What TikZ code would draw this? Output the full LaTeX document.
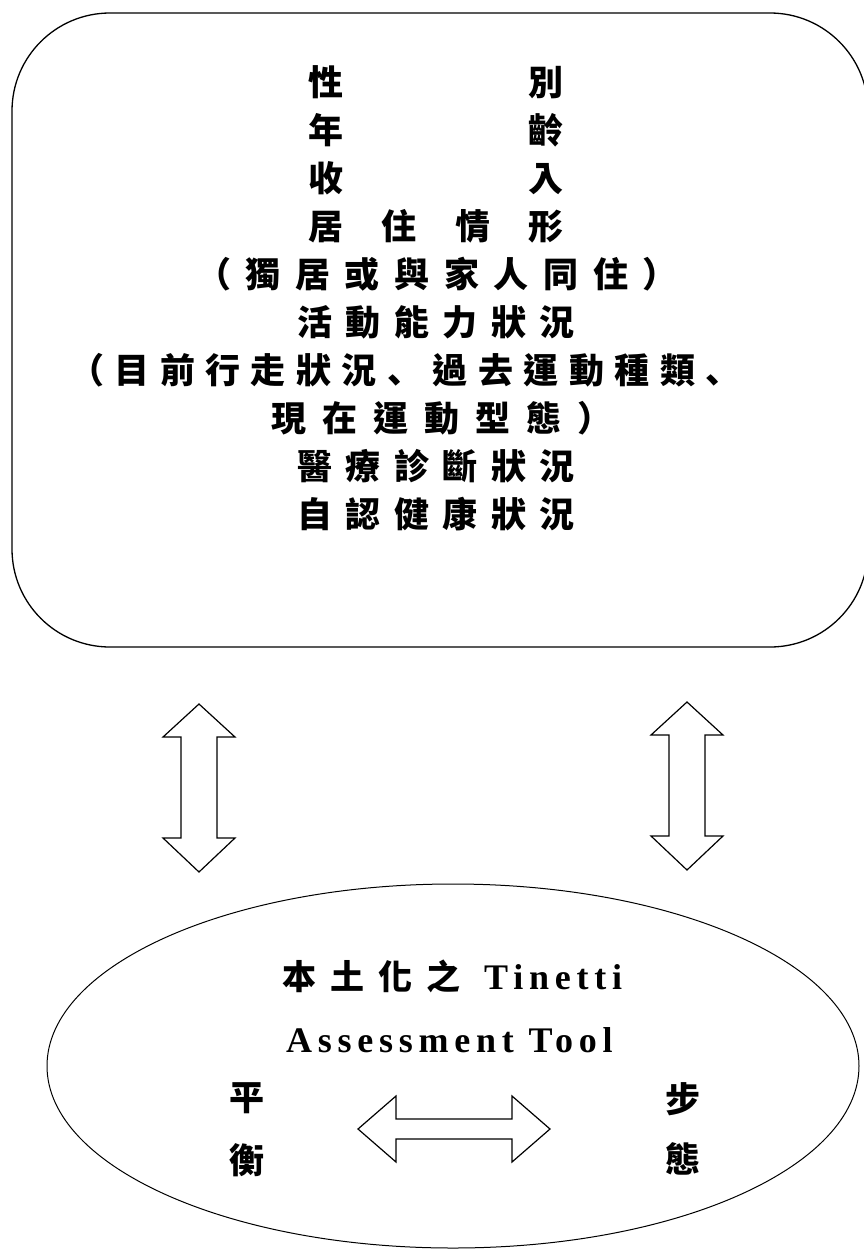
\documentclass[tikz,border=0pt]{standalone}
\usepackage{fontspec}
\usetikzlibrary{shapes.geometric}
\newfontfamily\cjk{Noto Sans CJK TC}
\newfontfamily\cjkjp{Noto Sans CJK JP}
\newfontfamily\latsp[LetterSpace=16]{Liberation Serif}
\newcommand\distline[2]{\makebox[#1pt][s]{#2}}
\tikzset{
  boxline/.style={draw=black, line width=1.3pt},
  ellline/.style={draw=black, line width=1pt},
  bigarrow/.style={draw=black, line width=1.2pt, line join=miter, fill=white},
  toptext/.style={inner sep=0pt, anchor=center, font=\cjk\bfseries\fontsize{35}{35}\selectfont},
  elltext/.style={inner sep=0pt, anchor=center, font=\cjk\bfseries\fontsize{35}{35}\selectfont},
}
\begin{document}
\begin{tikzpicture}[x=1pt,y=-1pt]
\useasboundingbox (0,0) rectangle (863,1251);
% upper rounded box
\node[boxline, rounded corners=98pt, minimum width=856pt, minimum height=634pt, inner sep=0pt] (box) at (440,330) {};
% text lines
\node[toptext] (t1) at (436,82) {\distline{255}{性\hfill 別}};
\node[toptext] (t2) at (436,130) {\distline{255}{年\hfill 齡}};
\node[toptext] (t3) at (436,178) {\distline{255}{收\hfill 入}};
\node[toptext] (t4) at (436,226) {\distline{255}{居\hfill 住\hfill 情\hfill 形}};
\node[toptext] (t5) at (437,274) {\distline{482}{（\hfill 獨\hfill 居\hfill 或\hfill 與\hfill 家\hfill 人\hfill 同\hfill 住\hfill ）}};
\node[toptext] (t6) at (436,322) {\distline{278}{活\hfill 動\hfill 能\hfill 力\hfill 狀\hfill 況}};
\node[toptext] (t7) at (405,370) {\distline{672}{（\hfill 目\hfill 前\hfill 行\hfill 走\hfill 狀\hfill 況\hfill {\cjkjp 、}\hfill 過\hfill 去\hfill 運\hfill 動\hfill 種\hfill 類\hfill {\cjkjp 、}}};
\node[toptext] (t8) at (442,418) {\distline{341}{現\hfill 在\hfill 運\hfill 動\hfill 型\hfill 態\hfill ）}};
\node[toptext] (t9) at (436,466) {\distline{278}{醫\hfill 療\hfill 診\hfill 斷\hfill 狀\hfill 況}};
\node[toptext] (t10) at (436,514) {\distline{278}{自\hfill 認\hfill 健\hfill 康\hfill 狀\hfill 況}};
% vertical double arrows
\draw[bigarrow] (199,704) -- (235,737) -- (217,737) -- (217,838) -- (235,838) -- (199,872)
  -- (163,838) -- (181,838) -- (181,737) -- (163,737) -- cycle;
\draw[bigarrow] (687,702) -- (723,735) -- (705,735) -- (705,836) -- (723,836) -- (687,870)
  -- (651,836) -- (669,836) -- (669,735) -- (651,735) -- cycle;
% lower ellipse
\node[ellline, ellipse, minimum width=812pt, minimum height=364pt, inner sep=0pt] (ell) at (453,1066) {};
\node[inner sep=0pt, anchor=base west] (title1) at (282,989)
  {{\cjk\bfseries\fontsize{34}{34}\selectfont 本\hspace{14pt}土\hspace{14pt}化\hspace{14pt}之}\hspace{24pt}{\latsp\bfseries\fontsize{36}{36}\selectfont Tinetti}};
\node[inner sep=0pt, anchor=base west] (title2) at (286,1052)
  {\latsp\bfseries\fontsize{36}{36}\selectfont Assessment Tool};
\node[elltext] (p1) at (247,1098) {平};
\node[elltext] (p2) at (247,1160) {衡};
\node[elltext] (g1) at (683,1099) {步};
\node[elltext] (g2) at (683,1159) {態};
% horizontal double arrow
\draw[bigarrow] (358,1129) -- (396,1096) -- (396,1119) -- (512,1119) -- (512,1096) -- (550,1129)
  -- (512,1162) -- (512,1139) -- (396,1139) -- (396,1162) -- cycle;
\end{tikzpicture}
\end{document}
